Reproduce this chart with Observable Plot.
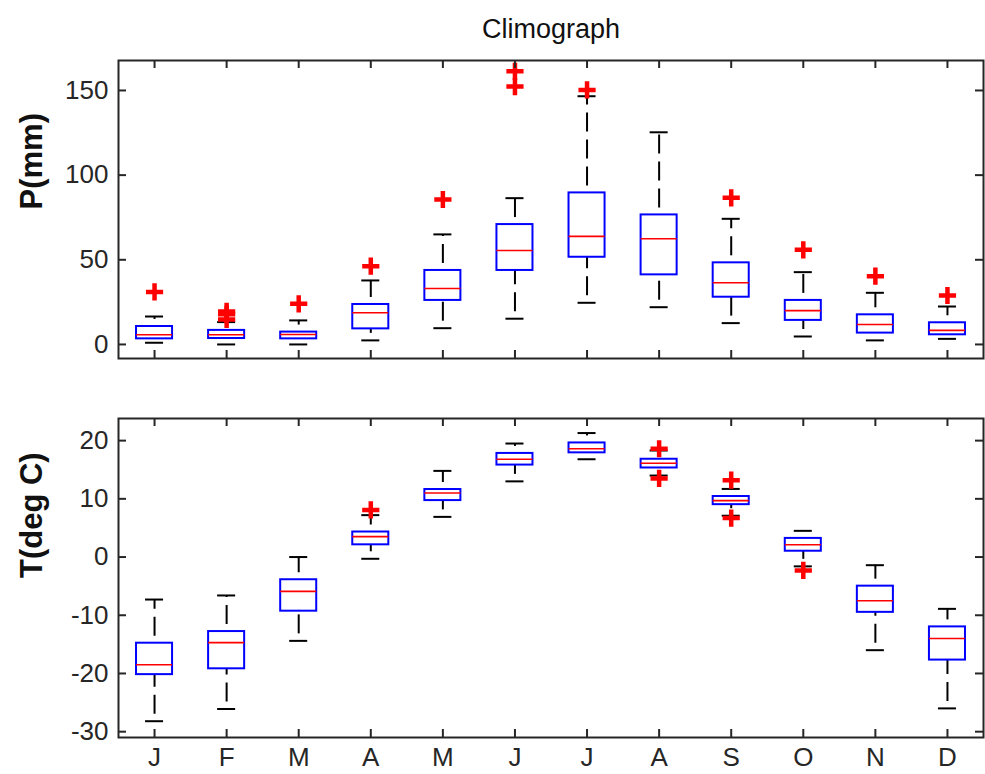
<!DOCTYPE html>
<html>
<head>
<meta charset="utf-8">
<script src="https://cdn.jsdelivr.net/npm/d3@7"></script>
<script src="https://cdn.jsdelivr.net/npm/@observablehq/plot@0.6"></script>
<style>
  html, body { margin: 0; padding: 0; background: #fff; }
  #chart svg { display: block; }
</style>
</head>
<body>
<div id="chart"></div>
<script>
// ---- Data ----
const months = ["J","F","M","A","M","J","J","A","S","O","N","D"];

// Precipitation P (mm)
const pLow  = [1.0, 0.0, 0.0, 2.4, 9.6, 15.2, 24.6, 22.0, 12.6, 4.7, 2.4, 3.3];
const pQ1   = [3.3, 3.5, 3.3, 9.2, 26.0, 43.7, 51.5, 41.1, 27.9, 14.2, 6.7, 5.7];
const pMed  = [5.7, 5.7, 5.9, 18.7, 33.0, 55.5, 63.8, 62.4, 36.4, 20.0, 11.8, 8.3];
const pQ3   = [10.6, 8.3, 7.3, 23.6, 43.7, 70.8, 89.5, 76.5, 48.2, 26.0, 17.5, 12.8];
const pHigh = [16.5, 13.2, 14.2, 37.8, 65.0, 86.4, 146.6, 125.3, 74.2, 42.7, 30.5, 22.4];
const pOut  = [[31.0], [19.5, 17.8, 14.8], [24.0], [46.2], [85.6], [161.3, 152.3], [150.3], [], [86.6], [55.9], [40.3], [28.9]];
const pTicks = [0, 50, 100, 150];
const pDomain = [-8.3, 167.7];

// Temperature T (deg C)
const tLow  = [-28.2, -26.1, -14.4, -0.3, 6.9, 13.0, 16.8, 14.0, 7.1, -1.6, -16.0, -26.0];
const tQ1   = [-20.2, -19.2, -9.3, 2.1, 9.7, 15.8, 17.9, 15.3, 9.0, 1.0, -9.5, -17.7];
const tMed  = [-18.5, -14.7, -5.9, 3.5, 11.0, 16.8, 18.6, 16.1, 9.7, 2.1, -7.5, -14.0];
const tQ3   = [-14.8, -12.8, -3.9, 4.3, 11.6, 17.8, 19.6, 16.8, 10.4, 3.2, -5.0, -12.0];
const tHigh = [-7.3, -6.6, 0.0, 7.2, 14.8, 19.5, 21.3, 18.3, 11.7, 4.5, -1.4, -8.9];
const tOut  = [[], [], [], [8.1], [], [], [], [18.6, 13.5], [13.2, 6.7], [-2.3], [], []];
const tTicks = [-30, -20, -10, 0, 10, 20];
const tDomain = [-31.0, 23.8];

// ---- Build tables ----
function rowsOf(low, q1, med, q3, high) {
  return months.map((m, k) => ({i: k + 1, low: low[k], q1: q1[k], med: med[k], q3: q3[k], high: high[k]}));
}
function outsOf(out) {
  return out.flatMap((vs, k) => vs.map(v => ({i: k + 1, v})));
}

const FONT = "'Liberation Sans', Arial, Helvetica, sans-serif";
const INK = "#262626";
const W = 985, ML = 118, MR = 2;
const xTicks = d3.range(1, 13);

function panel({rows, outs, yDomain, yTicks, height, marginTop, marginBottom, showX, label, title}) {
  const plotH = height - marginTop - marginBottom;
  const plotW = W - ML - MR;
  const whisker = {stroke: "black", strokeWidth: 2, strokeDasharray: "19,8", strokeDashoffset: 20};
  const marks = [
    Plot.ruleX(rows, {x: "i", y1: "q3", y2: "high", ...whisker}),
    Plot.ruleX(rows, {x: "i", y1: "low", y2: "q1", ...whisker}),
    Plot.ruleY(rows, {y: "high", x1: d => d.i - 0.125, x2: d => d.i + 0.125, stroke: "black", strokeWidth: 2}),
    Plot.ruleY(rows, {y: "low", x1: d => d.i - 0.125, x2: d => d.i + 0.125, stroke: "black", strokeWidth: 2}),
    Plot.rect(rows, {x1: d => d.i - 0.25, x2: d => d.i + 0.25, y1: "q1", y2: "q3", fill: "none", stroke: "#0000ff", strokeWidth: 2}),
    Plot.ruleY(rows, {y: "med", x1: d => d.i - 0.25, x2: d => d.i + 0.25, stroke: "#ff0000", strokeWidth: 1.6}),
    Plot.dot(outs, {x: "i", y: "v", symbol: "plus", r: 5.6, stroke: "#ff0000", strokeWidth: 4.5}),
    // inward ticks
    Plot.ruleX(xTicks, {x: d => d, insetBottom: plotH - 8, stroke: INK, strokeWidth: 2}),
    Plot.ruleX(xTicks, {x: d => d, insetTop: plotH - 8, stroke: INK, strokeWidth: 2}),
    Plot.ruleY(yTicks, {y: d => d, insetRight: plotW - 8, stroke: INK, strokeWidth: 2}),
    Plot.ruleY(yTicks, {y: d => d, insetLeft: plotW - 8, stroke: INK, strokeWidth: 2}),
    Plot.frame({stroke: INK, strokeWidth: 2}),
    Plot.axisY(yTicks, {tickSize: 0, tickPadding: 10, fontSize: 26, tickFormat: d => String(d), label: null}),
    Plot.text([label], {frameAnchor: "left", text: d => d, rotate: -90, dx: -86, fontSize: 31, fontWeight: "bold", fill: "#111"})
  ];
  if (showX) {
    marks.push(Plot.axisX(xTicks, {tickSize: 0, tickPadding: 10, fontSize: 26, tickFormat: i => months[i - 1], label: null}));
  }
  if (title) {
    marks.push(Plot.text([title], {frameAnchor: "top", text: d => d, lineAnchor: "bottom", dy: -23, fontSize: 27, fill: "#111"}));
  }
  return Plot.plot({
    width: W, height, marginLeft: ML, marginRight: MR, marginTop, marginBottom,
    x: {domain: [0.5, 12.5], axis: null},
    y: {domain: yDomain, axis: null},
    style: {fontFamily: FONT, fontSize: "26px", color: INK, background: "white", overflow: "visible"},
    marks
  });
}

const chart = document.getElementById("chart");
chart.appendChild(panel({
  rows: rowsOf(pLow, pQ1, pMed, pQ3, pHigh), outs: outsOf(pOut),
  yDomain: pDomain, yTicks: pTicks, height: 380, marginTop: 60, marginBottom: 22,
  showX: false, label: "P(mm)", title: "Climograph"
}));
chart.appendChild(panel({
  rows: rowsOf(tLow, tQ1, tMed, tQ3, tHigh), outs: outsOf(tOut),
  yDomain: tDomain, yTicks: tTicks, height: 394, marginTop: 38, marginBottom: 37,
  showX: true, label: "T(deg C)"
}));
</script>
</body>
</html>
